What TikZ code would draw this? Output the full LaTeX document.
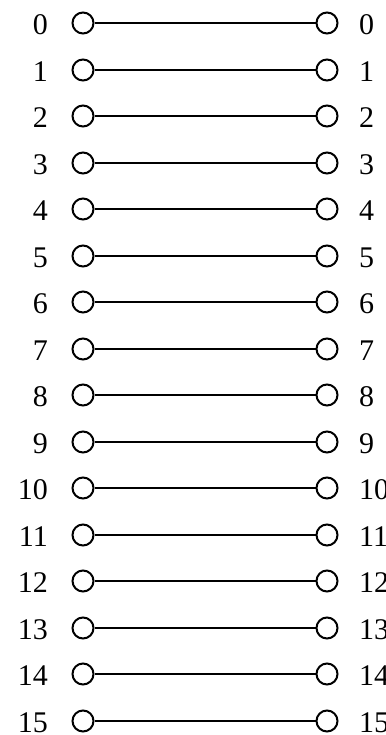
\documentclass[tikz,border=0pt]{standalone}
\usepackage{fontspec}
\setmainfont{Liberation Serif}
\begin{document}
\begin{tikzpicture}[x=1pt,y=-1pt,
 port/.style={circle,draw,line width=2pt,minimum size=21pt,inner sep=0pt},
 wire/.style={line width=2pt},
 lab/.style={font=\fontsize{30}{35}\selectfont,inner sep=0pt}]
\useasboundingbox (0,0) rectangle (385,735);
\clip (0,0) rectangle (385,735);
\foreach \i in {0,...,15}{
 \pgfmathsetmacro\yy{int(round(23+46.5*\i))}
 \node[port] (L\i) at (83,\yy) {};
 \node[port] (R\i) at (327,\yy) {};
 \draw[wire] (L\i) -- (R\i);
 \node[lab,anchor=east] (LL\i) at (48,\yy+2) {\i};
 \node[lab,anchor=west] (RL\i) at (359,\yy+2) {\i};
}
\end{tikzpicture}
\end{document}
